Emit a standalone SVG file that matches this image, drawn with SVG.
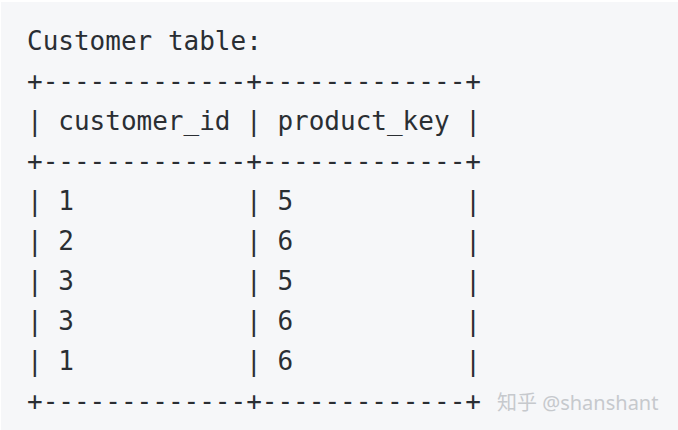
<svg xmlns="http://www.w3.org/2000/svg" width="678" height="430" viewBox="0 0 678 430">
<style>
.code{font-family:"DejaVu Sans Mono","Liberation Mono",monospace;font-size:26px;fill:#2a2e33}
.wm{font-family:"Noto Sans","Noto Sans CJK SC",sans-serif;font-size:20px;fill:#c6c9cd}
</style>
<rect x="0" y="0" width="678" height="430" fill="#ffffff"/>
<rect x="1" y="2" width="677" height="428" fill="#f6f7f9"/>
<g id="code" class="code">
<text x="27" y="50">Customer table:</text>
<text x="27" y="90">+-------------+-------------+</text>
<text x="27" y="130">|</text><text x="58.3" y="130">customer_id</text><text x="246.1" y="130">|</text><text x="277.4" y="130">product_key</text><text x="465.2" y="130">|</text>
<text x="27" y="170">+-------------+-------------+</text>
<text x="27" y="210">|</text><text x="58.3" y="210">1</text><text x="246.1" y="210">|</text><text x="277.4" y="210">5</text><text x="465.2" y="210">|</text>
<text x="27" y="250">|</text><text x="58.3" y="250">2</text><text x="246.1" y="250">|</text><text x="277.4" y="250">6</text><text x="465.2" y="250">|</text>
<text x="27" y="290">|</text><text x="58.3" y="290">3</text><text x="246.1" y="290">|</text><text x="277.4" y="290">5</text><text x="465.2" y="290">|</text>
<text x="27" y="330">|</text><text x="58.3" y="330">3</text><text x="246.1" y="330">|</text><text x="277.4" y="330">6</text><text x="465.2" y="330">|</text>
<text x="27" y="370">|</text><text x="58.3" y="370">1</text><text x="246.1" y="370">|</text><text x="277.4" y="370">6</text><text x="465.2" y="370">|</text>
<text x="27" y="410">+-------------+-------------+</text>
</g>
<g id="watermark">
<text class="wm" x="497" y="410">知乎 @shanshant</text>
</g>
</svg>
